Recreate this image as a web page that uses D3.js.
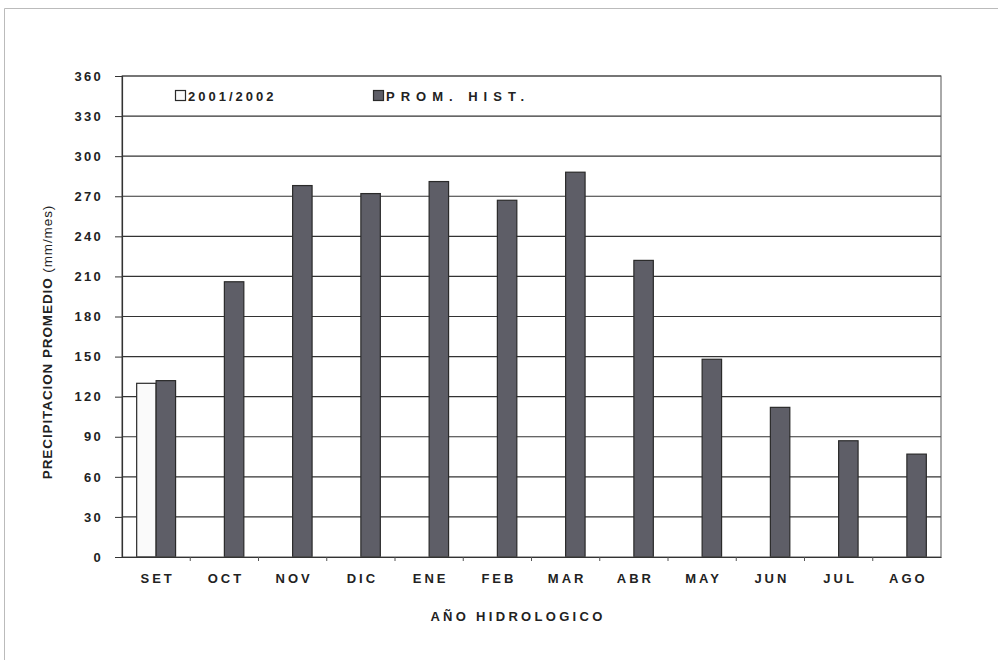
<!DOCTYPE html>
<html>
<head>
<meta charset="utf-8">
<script src="https://cdn.jsdelivr.net/npm/d3@7"></script>
<style>
  html, body { margin: 0; padding: 0; background: #fff; }
  svg { display: block; }
  text { font-family: "Liberation Sans", Arial, sans-serif; fill: #222; }
</style>
</head>
<body>
<svg id="chart" width="998" height="660"></svg>
<script>
// Monthly precipitation over the hydrological year (mm/mes)
const months = ["SET", "OCT", "NOV", "DIC", "ENE", "FEB", "MAR", "ABR", "MAY", "JUN", "JUL", "AGO"];
const season2001 = [130, null, null, null, null, null, null, null, null, null, null, null];
const historicAvg = [132, 206, 278, 272, 281, 267, 288, 222, 148, 112, 87, 77];
const seriesNames = ["2001/2002", "PROM. HIST."];
const yTicks = [0, 30, 60, 90, 120, 150, 180, 210, 240, 270, 300, 330, 360];

const svg = d3.select("#chart");
const margin = { left: 122, right: 57, top: 76, bottom: 103 };
const W = 998, H = 660;
const iw = W - margin.left - margin.right;
const ih = H - margin.top - margin.bottom;
const FONT = "'Liberation Sans', Arial, sans-serif";

// page frame
svg.append("path")
  .attr("d", `M4.5,660 V8.5 H998`)
  .attr("fill", "none").attr("stroke", "#bbb").attr("stroke-width", 1);

const g = svg.append("g").attr("transform", `translate(${margin.left},${margin.top})`);

const x = d3.scaleBand().domain(months).range([0, iw]).paddingInner(0).paddingOuter(0);
const y = d3.scaleLinear().domain([0, 360]).range([ih, 0]);
const xs = d3.scaleBand().domain([0, 1]).range([x.bandwidth() * 0.215, x.bandwidth() * 0.785]);

// gridlines
g.append("g").selectAll("line").data(yTicks.filter(d => d > 0)).join("line")
  .attr("x1", 0).attr("x2", iw)
  .attr("y1", d => y(d)).attr("y2", d => y(d))
  .attr("stroke", "#333").attr("stroke-width", 1.1);

// bars
const groups = g.append("g").selectAll("g").data(months).join("g")
  .attr("transform", d => `translate(${x(d)},0)`);

groups.each(function(m, i) {
  const sel = d3.select(this);
  const vals = [season2001[i], historicAvg[i]];
  vals.forEach((v, k) => {
    if (v == null) return;
    sel.append("rect")
      .attr("x", xs(k)).attr("width", xs.bandwidth())
      .attr("y", y(v)).attr("height", ih - y(v))
      .attr("fill", k === 0 ? "#fafafa" : "#5e5e67")
      .attr("stroke", "#2a2a2a").attr("stroke-width", 1.2);
  });
});

// plot frame
g.append("rect").attr("x", 0).attr("y", 0).attr("width", iw).attr("height", ih)
  .attr("fill", "none").attr("stroke", "#555").attr("stroke-width", 1);

// y axis
const yAxis = g.append("g").call(d3.axisLeft(y).tickValues(yTicks).tickSize(7).tickPadding(12));
yAxis.select(".domain").attr("stroke", "#333").attr("stroke-width", 1.2);
yAxis.selectAll(".tick line").attr("stroke", "#333");
yAxis.selectAll("text").attr("font-size", 13).attr("font-weight", "bold")
  .attr("font-family", FONT).style("letter-spacing", "2.3px").attr("fill", "#222");

// x axis
const xAxis = g.append("g").attr("transform", `translate(0,${ih})`)
  .call(d3.axisBottom(x).tickSize(0).tickPadding(17));
xAxis.select(".domain").attr("stroke", "#333").attr("stroke-width", 1.2);
xAxis.selectAll("text").attr("font-size", 13).attr("font-weight", "bold")
  .attr("font-family", FONT).style("letter-spacing", "3px").attr("fill", "#222")
  .attr("dx", "1.5px");
// small ticks between categories
g.append("g").selectAll("line").data(months.slice(1)).join("line")
  .attr("x1", d => x(d)).attr("x2", d => x(d))
  .attr("y1", ih).attr("y2", ih + 4).attr("stroke", "#555");

// axis titles
svg.append("text")
  .attr("x", 518).attr("y", 621)
  .attr("text-anchor", "middle").attr("font-size", 13).attr("font-weight", "bold")
  .style("letter-spacing", "3.3px")
  .text("AÑO HIDROLOGICO");

const yTitle = svg.append("text")
  .attr("transform", `translate(52,342) rotate(-90)`)
  .attr("text-anchor", "middle").attr("font-size", 13.5)
  .style("letter-spacing", "0.9px");
yTitle.append("tspan").attr("font-weight", "bold").text("PRECIPITACION PROMEDIO");
yTitle.append("tspan").text(" (mm/mes)");

// legend
const legendX = [175, 373];
const legend = svg.append("g").selectAll("g").data(seriesNames).join("g")
  .attr("transform", (d, i) => `translate(${legendX[i]},90)`);
legend.append("rect").attr("x", 0.5).attr("y", 0.5).attr("width", 10).attr("height", 10)
  .attr("fill", (d, i) => i === 0 ? "#fafafa" : "#5e5e67")
  .attr("stroke", "#2a2a2a").attr("stroke-width", 1.2);
legend.append("text").attr("x", 13).attr("y", 10.5)
  .attr("font-size", 13).attr("font-weight", "bold")
  .style("letter-spacing", (d, i) => i === 0 ? "3px" : "6px")
  .text(d => d);
</script>
</body>
</html>
